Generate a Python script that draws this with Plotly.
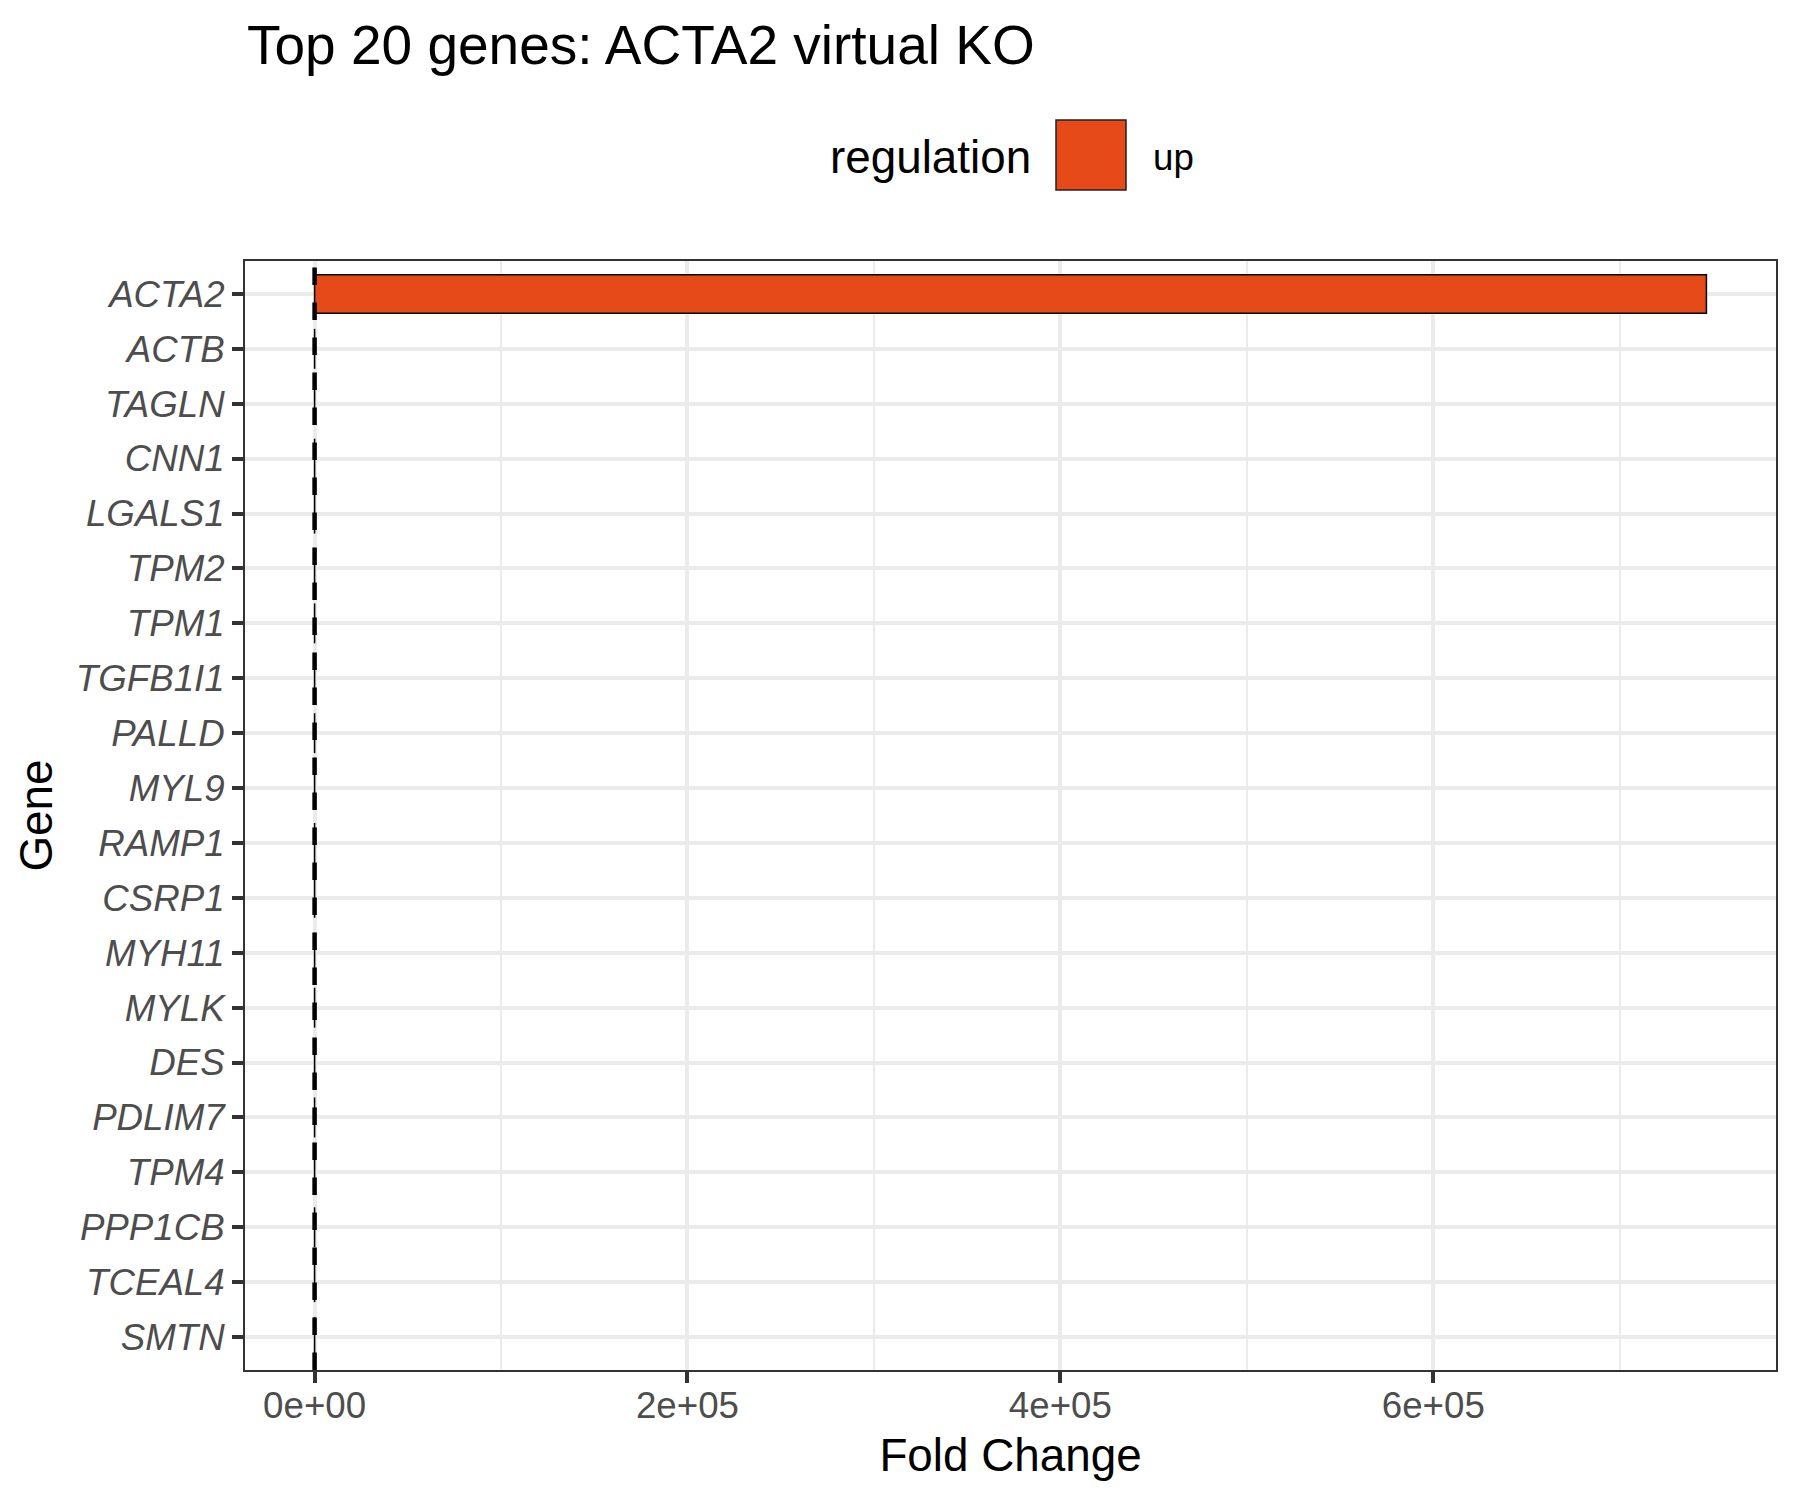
import plotly.graph_objects as go

# ---- data ----
genes = ["ACTA2", "ACTB", "TAGLN", "CNN1", "LGALS1", "TPM2", "TPM1", "TGFB1I1",
         "PALLD", "MYL9", "RAMP1", "CSRP1", "MYH11", "MYLK", "DES", "PDLIM7",
         "TPM4", "PPP1CB", "TCEAL4", "SMTN"]
fold_change = [746500, 9.8, 8.9, 8.1, 7.6, 7.2, 6.8, 6.5, 6.1, 5.8, 5.5, 5.2,
               4.9, 4.6, 4.3, 4.0, 3.8, 3.5, 3.3, 3.1]
regulation = ["up"] * len(genes)
x_tickvals = [0, 200000, 400000, 600000]
x_ticktext = ["0e+00", "2e+05", "4e+05", "6e+05"]
x_minorvals = [100000, 300000, 500000, 700000]
ref_line = 1

W, H = 1800, 1500
L, R, T, B = 245, 24, 261, 130
PW, PH = W - L - R, H - T - B

FONT = "Liberation Sans"
UP_COLOR = "#E64A19"
GRID = "#EBEBEB"

xmax = max(fold_change)
xmin = min(0, min(fold_change))
span = xmax - xmin

fig = go.Figure()
fig.add_trace(go.Bar(
    x=fold_change, y=genes, orientation="h", width=0.7,
    name="up", showlegend=False,
    marker=dict(color=UP_COLOR, line=dict(color="black", width=1.5)),
))

fig.add_shape(type="line", xref="x", yref="paper", x0=ref_line, x1=ref_line,
              y0=0, y1=1, layer="above",
              line=dict(color="black", width=4.5, dash="17.5px,17.5px"))

def py(pix):
    return (H - B - pix) / PH

def px(pix):
    return (pix - L) / PW

# manual legend (key sized like the reference)
fig.add_shape(type="rect", xref="paper", yref="paper",
              x0=px(1056), x1=px(1126), y0=py(190), y1=py(120),
              fillcolor=UP_COLOR, line=dict(color="#222222", width=1.5))
fig.add_annotation(text="regulation", xref="paper", yref="paper",
                   x=px(1033), y=py(157), xanchor="right", yanchor="middle",
                   showarrow=False, font=dict(family=FONT, size=45.8, color="black"))
fig.add_annotation(text=regulation[0], xref="paper", yref="paper",
                   x=px(1151), y=py(157), xanchor="left", yanchor="middle",
                   showarrow=False, font=dict(family=FONT, size=36.7, color="black"))

fig.update_layout(
    width=W, height=H,
    margin=dict(l=L, r=R, t=T, b=B, autoexpand=False),
    paper_bgcolor="white", plot_bgcolor="white",
    font=dict(family=FONT, color="black"),
    title=dict(text="Top 20 genes: ACTA2 virtual KO", x=247 / W, xanchor="left",
               xref="container", yref="container", y=1 - 45 / H, yanchor="middle",
               font=dict(family=FONT, size=55, color="black")),
    bargap=0.3,
)

fig.update_xaxes(
    range=[xmin - 0.05 * span, xmax + 0.05 * span],
    tickvals=x_tickvals, ticktext=x_ticktext,
    tickfont=dict(family=FONT, size=36.7, color="#4D4D4D"),
    ticks="outside", ticklen=11, tickwidth=4, tickcolor="#333333",
    ticklabelstandoff=-9,
    showgrid=True, gridcolor=GRID, gridwidth=4,
    minor=dict(tickvals=x_minorvals, showgrid=True, gridcolor=GRID, gridwidth=2, ticks=""),
    showline=True, linecolor="#333333", linewidth=2, mirror=True,
    zeroline=False,
    title=dict(text="Fold Change", font=dict(family=FONT, size=45.8, color="black"), standoff=14),
)
fig.update_yaxes(
    type="category", categoryorder="array", categoryarray=genes,
    range=[len(genes) - 1 + 0.6, -0.6],
    tickfont=dict(family=FONT, size=36.7, color="#4D4D4D", style="italic"),
    ticks="outside", ticklen=11, tickwidth=4, tickcolor="#333333",
    ticklabelstandoff=0,
    showgrid=True, gridcolor=GRID, gridwidth=4,
    showline=True, linecolor="#333333", linewidth=2, mirror=True,
    zeroline=False,
    title=dict(text="Gene", font=dict(family=FONT, size=45.8, color="black"), standoff=9),
)

fig.write_html("out.html", config={"displayModeBar": False},
               post_script="document.body.style.margin='0';document.body.style.overflow='hidden';")
